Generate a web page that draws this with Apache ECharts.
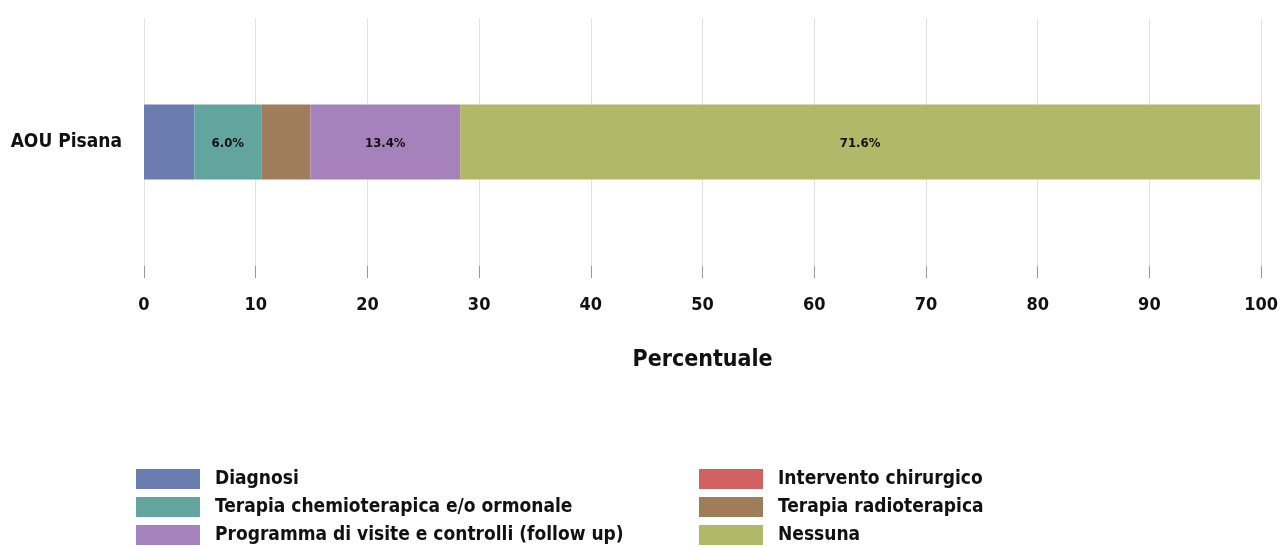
<!DOCTYPE html>
<html>
<head>
<meta charset="utf-8">
<script src="https://cdn.jsdelivr.net/npm/echarts@6/dist/echarts.min.js"></script>
<style>
html,body{margin:0;padding:0;background:#fff;}
#chart{width:1281px;height:547px;}
</style>
</head>
<body>
<div id="chart"></div>
<script>
const categories = ["AOU Pisana"];
const seriesNames = [
  "Diagnosi",
  "Intervento chirurgico",
  "Terapia chemioterapica e/o ormonale",
  "Terapia radioterapica",
  "Programma di visite e controlli (follow up)",
  "Nessuna"
];
const diagnosi = [4.5];
const intervento = [0];
const chemio = [6.0];
const radio = [4.4];
const programma = [13.4];
const nessuna = [71.6];
const xTicks = [0, 10, 20, 30, 40, 50, 60, 70, 80, 90, 100];
const colors = ["#6b7cb1", "#d26262", "#62a59f", "#9f7c5a", "#a682bc", "#b1b867"];

const FONT = "'DejaVu Sans Condensed', 'DejaVu Sans', sans-serif";
const values = [diagnosi, intervento, chemio, radio, programma, nessuna];

const series = seriesNames.map((name, i) => ({
  name: name,
  type: 'bar',
  stack: 'total',
  barWidth: 75,
  itemStyle: { color: colors[i] },
  label: {
    show: true,
    position: 'inside',
    offset: [0, 2],
    color: '#111',
    fontFamily: FONT,
    fontWeight: 'bold',
    fontSize: 13,
    formatter: p => (p.value >= 5 ? p.value.toFixed(1) + '%' : '')
  },
  data: values[i]
}));

const legendText = { color: '#111', fontSize: 19, fontWeight: 'bold', fontFamily: FONT, padding: [0, 0, 0, 10], lineHeight: 20 };

const chart = echarts.init(document.getElementById('chart'));
chart.setOption({
  animation: false,
  textStyle: { fontFamily: FONT },
  grid: { left: 144, right: 19, top: 18, bottom: 281 },
  xAxis: {
    type: 'value',
    min: 0,
    max: 100,
    interval: 10,
    name: 'Percentuale',
    nameLocation: 'middle',
    nameGap: 83,
    nameTextStyle: { color: '#111', fontSize: 23, fontWeight: 'bold', fontFamily: FONT },
    axisLine: { show: false },
    axisTick: { show: true, length: 12, lineStyle: { color: '#999' } },
    axisLabel: {
      color: '#111', fontSize: 18, fontWeight: 'bold', fontFamily: FONT, margin: 30,
      formatter: v => xTicks.includes(v) ? String(v) : ''
    },
    splitLine: { show: true, lineStyle: { color: '#e3e3e3', width: 1 } }
  },
  yAxis: {
    type: 'category',
    data: categories,
    axisLine: { show: false },
    axisTick: { show: false },
    axisLabel: { color: '#111', fontSize: 19, fontWeight: 'bold', fontFamily: FONT, margin: 22 }
  },
  legend: [
    {
      orient: 'vertical',
      left: 136,
      top: 469,
      height: 120,
      padding: 0,
      itemWidth: 64,
      itemHeight: 20,
      itemGap: 8,
      icon: 'rect',
      data: [seriesNames[0], seriesNames[2], seriesNames[4]],
      textStyle: legendText
    },
    {
      orient: 'vertical',
      left: 699,
      top: 469,
      height: 120,
      padding: 0,
      itemWidth: 64,
      itemHeight: 20,
      itemGap: 8,
      icon: 'rect',
      data: [seriesNames[1], seriesNames[3], seriesNames[5]],
      textStyle: legendText
    }
  ],
  series: series
});
</script>
</body>
</html>
